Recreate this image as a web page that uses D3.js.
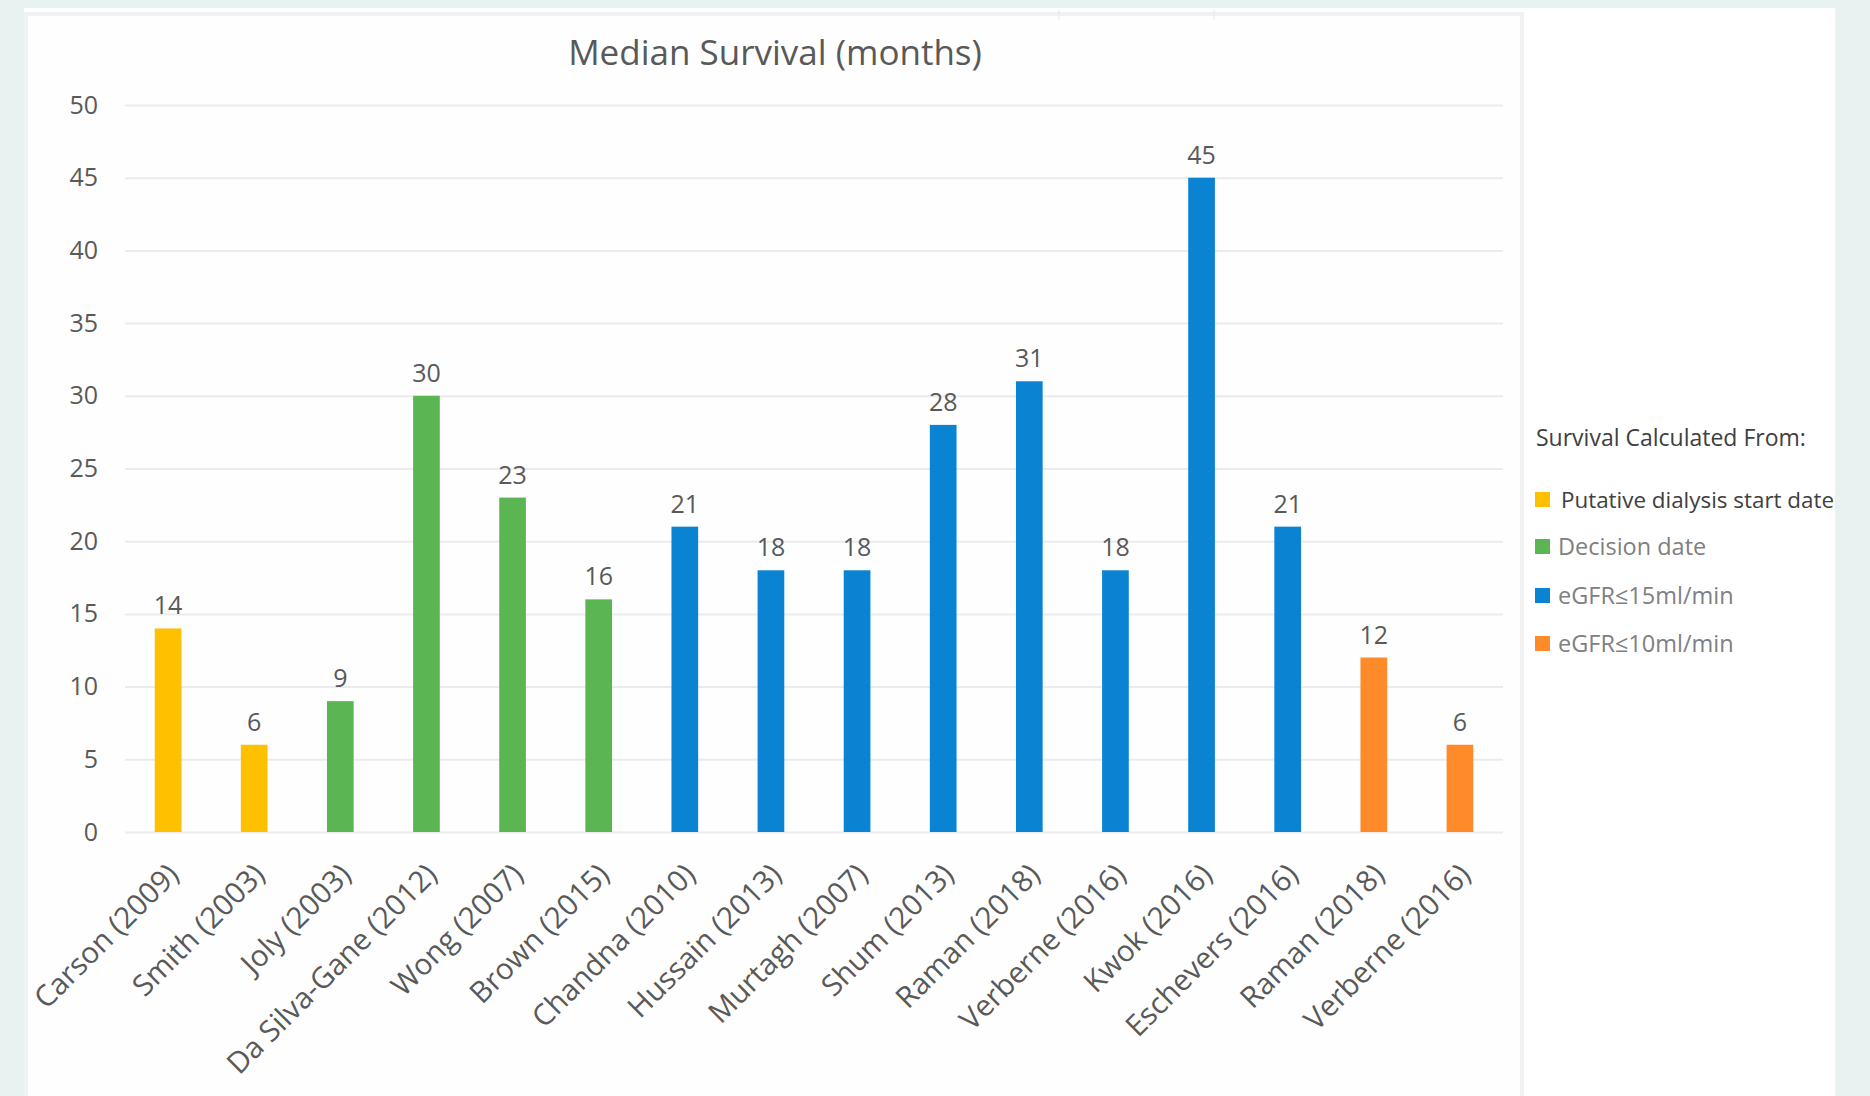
<!DOCTYPE html>
<html>
<head>
<meta charset="utf-8">
<script src="https://cdn.jsdelivr.net/npm/d3@7"></script>
<style>
  html, body { margin: 0; padding: 0; background: #e8f2f0; }
  svg { display: block; }
  text { font-family: "Open Sans", sans-serif; }
</style>
</head>
<body>
<svg id="chart" width="1870" height="1096"></svg>
<script>
// ---- data ----
const studies = ["Carson (2009)", "Smith (2003)", "Joly (2003)", "Da Silva-Gane (2012)", "Wong (2007)",
  "Brown (2015)", "Chandna (2010)", "Hussain (2013)", "Murtagh (2007)", "Shum (2013)", "Raman (2018)",
  "Verberne (2016)", "Kwok (2016)", "Eschevers (2016)", "Raman (2018)", "Verberne (2016)"];
const survival = [14, 6, 9, 30, 23, 16, 21, 18, 18, 28, 31, 18, 45, 21, 12, 6];
const method = [0, 0, 1, 1, 1, 1, 2, 2, 2, 2, 2, 2, 2, 2, 3, 3];
const methodNames = ["Putative dialysis start date", "Decision date", "eGFR≤15ml/min", "eGFR≤10ml/min"];
const methodColors = ["#ffc000", "#5cb553", "#0a84d2", "#ff8a2a"];
const yTicks = [0, 5, 10, 15, 20, 25, 30, 35, 40, 45, 50];
const chartTitle = "Median Survival (months)";
const legendTitle = "Survival Calculated From:";

// ---- layout ----
const svg = d3.select("#chart");
const plot = { left: 125, right: 1503, top: 105, bottom: 832 };

// page panels
svg.append("rect").attr("x", 0).attr("y", 0).attr("width", 1870).attr("height", 1096).attr("fill", "#e8f2f0");
svg.append("rect").attr("x", 24).attr("y", 8).attr("width", 1811).attr("height", 1088).attr("fill", "#ffffff");
svg.append("rect").attr("x", 26).attr("y", 14).attr("width", 1496).attr("height", 1090)
  .attr("fill", "#fefefe").attr("stroke", "#f1f1f1").attr("stroke-width", 4);
svg.append("line").attr("x1", 1059).attr("x2", 1059).attr("y1", 10).attr("y2", 20).attr("stroke", "#e6e6e6");
svg.append("line").attr("x1", 1214).attr("x2", 1214).attr("y1", 10).attr("y2", 20).attr("stroke", "#e6e6e6");

const x = d3.scaleBand().domain(d3.range(studies.length))
  .range([plot.left, plot.right]).paddingInner(0.69).paddingOuter(0.345);
const y = d3.scaleLinear().domain([0, 50]).range([plot.bottom, plot.top]);

// gridlines + y labels via axis
const yAxis = d3.axisLeft(y).tickValues(yTicks).tickSize(-(plot.right - plot.left)).tickPadding(27);
const gy = svg.append("g").attr("transform", `translate(${plot.left},0)`).call(yAxis);
gy.select(".domain").remove();
gy.selectAll(".tick line").attr("stroke", "#ebebeb").attr("stroke-width", 2);
gy.selectAll(".tick text").attr("fill", "#595959").style("font-size", "25px")
  .style("font-family", "'Open Sans', sans-serif");

// title
svg.append("text").attr("x", 775).attr("y", 65).attr("text-anchor", "middle")
  .attr("fill", "#595959").style("font-size", "35px").text(chartTitle);

// bars
svg.append("g").selectAll("rect").data(survival).join("rect")
  .attr("x", (d, i) => x(i)).attr("width", x.bandwidth())
  .attr("y", d => y(d)).attr("height", d => y(0) - y(d))
  .attr("fill", (d, i) => methodColors[method[i]]);

// data labels
svg.append("g").selectAll("text").data(survival).join("text")
  .attr("x", (d, i) => x(i) + x.bandwidth() / 2).attr("y", d => y(d) - 14)
  .attr("text-anchor", "middle").attr("fill", "#595959").style("font-size", "25px")
  .text(d => d);

// x labels via axis
const xAxis = d3.axisBottom(x).tickFormat(i => studies[i]).tickSize(0);
const gx = svg.append("g").attr("transform", `translate(0,${plot.bottom})`).call(xAxis);
gx.select(".domain").remove();
gx.selectAll(".tick text")
  .attr("fill", "#595959").style("font-size", "29.5px")
  .style("font-family", "'Open Sans', sans-serif")
  .attr("text-anchor", "end")
  .attr("dy", "0.35em").attr("y", 0)
  .attr("transform", "translate(5,37) rotate(-45)");

// legend
const lg = svg.append("g");
lg.append("text").attr("x", 1536).attr("y", 446).attr("fill", "#404040")
  .style("font-size", "23px").text(legendTitle);
const legendY = [500, 547, 596, 644];
methodNames.forEach((name, k) => {
  lg.append("rect").attr("x", 1535).attr("y", legendY[k] - 8).attr("width", 15).attr("height", 15)
    .attr("fill", methodColors[k]);
  lg.append("text").attr("x", k === 0 ? 1561 : 1558).attr("y", legendY[k] + 8)
    .attr("fill", k === 0 ? "#404040" : "#808080")
    .style("font-size", k === 0 ? "22.4px" : "23.5px")
    .text(name);
});
</script>
</body>
</html>
